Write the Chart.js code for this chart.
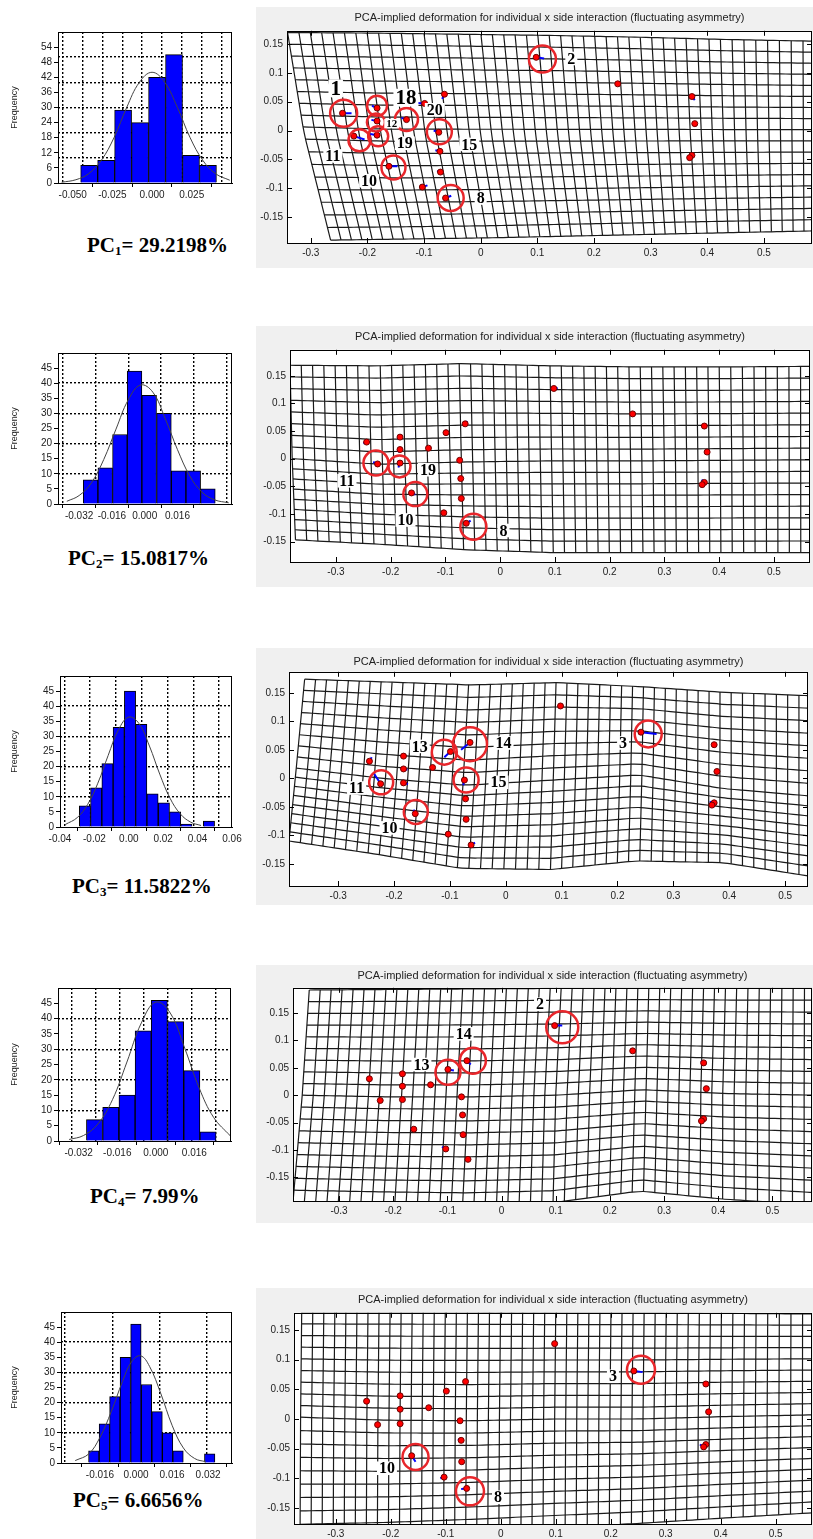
<!DOCTYPE html>
<html>
<head>
<meta charset="utf-8">
<script src="https://cdn.jsdelivr.net/npm/chart.js@4.4.1/dist/chart.umd.min.js"></script>
<style>
  body { margin: 0; width: 813px; height: 1539px; position: relative; overflow: hidden; background: #fff; }
  canvas { position: absolute; }
  .pc { position: absolute; font: bold 21px "Liberation Serif", "Times New Roman", serif; line-height: 24px; color: #000; white-space: nowrap; }
  .pc sub { font-size: 13px; line-height: 0; vertical-align: -3px; }
</style>
</head>
<body>

<div class="pc" style="left:87px;top:233px">PC<sub>1</sub>= 29.2198%</div>
<div class="pc" style="left:68px;top:546px">PC<sub>2</sub>= 15.0817%</div>
<div class="pc" style="left:72px;top:874px">PC<sub>3</sub>= 11.5822%</div>
<div class="pc" style="left:90px;top:1184px">PC<sub>4</sub>= 7.99%</div>
<div class="pc" style="left:73px;top:1488px">PC<sub>5</sub>= 6.6656%</div>

<script>
// ====================== PC histograms + deformation grids ======================

const fontSans = '"Liberation Sans", Arial, sans-serif';
const fontNarrow = '"Liberation Sans Narrow", "Liberation Sans", Arial, sans-serif';
const fontSerif = '"Liberation Serif", "Times New Roman", serif';
const warpTitle = 'PCA-implied deformation for individual x side interaction (fluctuating asymmetry)';

// ---------- histogram data (bin edges, counts, fitted normal curve) ----------
const h1Edges = [-0.0450, -0.0343, -0.0236, -0.0129, -0.0022, 0.0085, 0.0192, 0.0299, 0.0406];
const h1Counts = [7, 9, 29, 24, 42, 51, 11, 7];
const h1CurveX = [-0.057, -0.048, -0.040, -0.032, -0.024, -0.016, -0.008, 0, 0.008, 0.016, 0.024, 0.032, 0.040, 0.049];
const h1CurveY = [0.3, 1.3, 3.7, 9, 18, 30, 40, 44, 40, 30, 18, 9, 3.7, 1.1];
const h1XTicks = [-0.05, -0.025, 0, 0.025];
const h1XGrid = [-0.05, -0.0375, -0.025, -0.0125, 0, 0.0125, 0.025, 0.0375, 0.05];
const h1YTicks = [0, 6, 12, 18, 24, 30, 36, 42, 48, 54];
const h1YGrid = [10, 20, 30, 40, 50];

const h2Edges = [-0.0300, -0.0228, -0.0157, -0.0085, -0.0014, 0.0058, 0.0130, 0.0201, 0.0273, 0.0344];
const h2Counts = [8, 12, 23, 44, 36, 30, 11, 11, 5];
const h2CurveX = [-0.038, -0.032, -0.026, -0.020, -0.014, -0.008, -0.002, 0.004, 0.010, 0.016, 0.022, 0.028, 0.034, 0.041];
const h2CurveY = [0.9, 2.8, 7, 14.7, 24.8, 34.5, 39.4, 37, 28.3, 18, 9.3, 3.9, 1.4, 0.4];
const h2XTicks = [-0.032, -0.016, 0, 0.016];
const h2XGrid = [-0.032, -0.016, 0, 0.016, 0.032];
const h2YTicks = [0, 5, 10, 15, 20, 25, 30, 35, 40, 45];
const h2YGrid = [10, 20, 30, 40];

const h3Edges = [-0.0288, -0.0222, -0.0157, -0.0091, -0.0026, 0.0040, 0.0105, 0.0171, 0.0237, 0.0302, 0.0368, 0.0433, 0.0499];
const h3Counts = [7, 13, 21, 33, 45, 34, 11, 8, 5, 1, 0, 2];
const h3CurveX = [-0.037, -0.030, -0.024, -0.018, -0.012, -0.006, 0, 0.006, 0.012, 0.018, 0.024, 0.030, 0.036, 0.042];
const h3CurveY = [0.8, 3.1, 7.4, 14.5, 23.7, 32.2, 36.4, 34.2, 26.8, 17.5, 9.5, 4.3, 1.6, 0.5];
const h3XTicks = [-0.04, -0.02, 0, 0.02, 0.04, 0.06];
const h3XGrid = [-0.03, -0.015, 0, 0.015, 0.03, 0.045];
const h3YTicks = [0, 5, 10, 15, 20, 25, 30, 35, 40, 45];
const h3YGrid = [10, 20, 30, 40];

const h4Edges = [-0.0288, -0.0221, -0.0153, -0.0086, -0.0019, 0.0048, 0.0116, 0.0183, 0.0250];
const h4Counts = [7, 11, 15, 36, 46, 39, 23, 3];
const h4CurveX = [-0.036, -0.030, -0.024, -0.018, -0.012, -0.006, 0, 0.006, 0.012, 0.018, 0.024, 0.031];
const h4CurveY = [0.5, 1.8, 5.6, 13.5, 25.8, 38.6, 45.4, 41.8, 30.3, 17.3, 7.7, 1.6];
const h4XTicks = [-0.032, -0.016, 0, 0.016];
const h4XGrid = [-0.03, -0.02, -0.01, 0, 0.01, 0.02, 0.03];
const h4YTicks = [0, 5, 10, 15, 20, 25, 30, 35, 40, 45];
const h4YGrid = [10, 20, 30, 40];

const h5Edges = [-0.0211, -0.0164, -0.0117, -0.0071, -0.0024, 0.0023, 0.0070, 0.0117, 0.0163, 0.0210, 0.0257, 0.0304, 0.0350];
const h5Counts = [4, 13, 22, 35, 46, 26, 17, 10, 4, 0, 0, 3];
const h5CurveX = [-0.027, -0.021, -0.016, -0.011, -0.006, -0.002, 0.002, 0.006, 0.011, 0.016, 0.021, 0.026, 0.031];
const h5CurveY = [0.8, 3, 8.5, 17, 27, 33.5, 35.5, 32, 23, 12.5, 5, 1.5, 0.4];
const h5XTicks = [-0.016, 0, 0.016, 0.032];
const h5XGrid = [-0.021, 0, 0.021, 0.042];
const h5YTicks = [0, 5, 10, 15, 20, 25, 30, 35, 40, 45];
const h5YGrid = [10, 20, 30, 40];

// ---------- deformation plots ----------
const warpXTicks = [-0.3, -0.2, -0.1, 0, 0.1, 0.2, 0.3, 0.4, 0.5];
const warpYTicks = [-0.15, -0.1, -0.05, 0, 0.05, 0.1, 0.15];

// mean landmark configuration (same in all five plots)
const lmX = [-0.244, -0.183, -0.183, -0.183, -0.224, -0.131, -0.099, -0.064, -0.074, -0.072, -0.071, -0.062, -0.103, -0.162, 0.098, 0.242, 0.373, 0.378, 0.373, 0.369];
const lmY = [0.030, 0.039, 0.0165, -0.008, -0.0096, 0.019, 0.047, 0.063, -0.003, -0.036, -0.072, -0.117, -0.098, -0.062, 0.127, 0.081, 0.059, 0.012, -0.043, -0.047];

// PC1
const pc1GridTop = [[-0.341, 0.170], [-0.187, 0.169], [-0.033, 0.167], [0.121, 0.165], [0.275, 0.162], [0.430, 0.158], [0.590, 0.155]];
const pc1GridMid = [[-0.312, -0.004], [-0.163, -0.008], [-0.013, -0.008], [0.136, -0.008], [0.286, -0.008], [0.435, -0.008], [0.590, -0.008]];
const pc1GridBot = [[-0.265, -0.190], [-0.124, -0.188], [0.018, -0.186], [0.160, -0.183], [0.301, -0.180], [0.443, -0.177], [0.590, -0.174]];
const pc1VecFrom = [0, 1, 2, 3, 4, 5, 6, 7, 8, 9, 10, 11, 12, 13, 14, 16];
const pc1VecDx = [0.016, -0.009, -0.010, -0.012, 0.019, -0.009, -0.013, -0.004, -0.009, -0.008, -0.006, 0.010, 0.009, 0.015, 0.014, 0.005];
const pc1VecDy = [0, 0.004, 0.002, 0.002, -0.006, 0.003, 0.001, -0.008, 0.003, 0.002, 0.002, 0.004, 0.003, 0, -0.002, -0.006];
const pc1RingX = [-0.242, -0.183, -0.185, -0.181, -0.214, -0.131, -0.073, -0.154, -0.053, 0.109];
const pc1RingY = [0.030, 0.043, 0.014, -0.010, -0.017, 0.019, -0.002, -0.064, -0.117, 0.124];
const pc1NumText = ['1', '18', '20', '12', '19', '15', '11', '10', '8', '2'];
const pc1NumX = [-0.256, -0.132, -0.081, -0.157, -0.134, -0.020, -0.261, -0.197, 0.000, 0.160];
const pc1NumY = [0.073, 0.057, 0.036, 0.012, -0.022, -0.024, -0.044, -0.087, -0.117, 0.125];

// PC2
const pc2GridTop = [[-0.384, 0.169], [-0.226, 0.168], [-0.068, 0.172], [0.091, 0.168], [0.249, 0.166], [0.407, 0.166], [0.570, 0.167]];
const pc2GridMid = [[-0.380, 0.000], [-0.222, -0.010], [-0.064, -0.006], [0.094, -0.004], [0.252, -0.004], [0.409, -0.003], [0.570, -0.002]];
const pc2GridBot = [[-0.374, -0.147], [-0.217, -0.155], [-0.060, -0.165], [0.097, -0.170], [0.254, -0.170], [0.410, -0.170], [0.570, -0.170]];
const pc2VecFrom = [0, 1, 2, 3, 4, 6, 7, 11, 13, 14, 18];
const pc2VecDx = [-0.006, -0.005, -0.004, -0.003, -0.008, -0.001, 0.004, 0.008, 0.007, 0.007, -0.005];
const pc2VecDy = [-0.002, -0.003, -0.0045, -0.008, 0.0036, 0.005, 0.005, 0.005, -0.003, 0.001, 0.005];
const pc2RingX = [-0.227, -0.184, -0.155, -0.049];
const pc2RingY = [-0.008, -0.014, -0.064, -0.123];
const pc2NumText = ['11', '19', '10', '8'];
const pc2NumX = [-0.280, -0.132, -0.173, 0.006];
const pc2NumY = [-0.040, -0.020, -0.111, -0.130];

// PC3
const pc3GridTop = [[-0.360, 0.174], [-0.210, 0.169], [-0.060, 0.164], [0.090, 0.168], [0.240, 0.161], [0.390, 0.151], [0.545, 0.145]];
const pc3GridMid = [[-0.375, 0.018], [-0.222, 0.000], [-0.070, -0.012], [0.085, -0.003], [0.237, 0.006], [0.390, -0.018], [0.545, -0.031]];
const pc3GridBot = [[-0.388, -0.110], [-0.233, -0.133], [-0.080, -0.158], [0.080, -0.160], [0.233, -0.145], [0.390, -0.148], [0.545, -0.172]];
const pc3VecFrom = [4, 6, 7, 8, 13, 15, 0, 3, 2, 11, 19];
const pc3VecDx = [-0.012, -0.011, -0.016, -0.002, -0.003, 0.028, 0.004, 0.008, 0.007, 0.007, -0.003];
const pc3VecDy = [0.018, -0.010, -0.013, -0.009, 0.007, -0.003, 0.007, -0.002, -0.0015, 0.004, 0.007];
const pc3RingX = [-0.223, -0.110, -0.064, -0.071, -0.161, 0.255];
const pc3RingY = [-0.007, 0.046, 0.060, -0.003, -0.059, 0.078];
const pc3NumText = ['13', '14', '15', '11', '10', '3'];
const pc3NumX = [-0.154, -0.004, -0.013, -0.267, -0.208, 0.210];
const pc3NumY = [0.056, 0.062, -0.007, -0.017, -0.087, 0.062];

// PC4
const pc4GridTop = [[-0.355, 0.192], [-0.200, 0.193], [-0.045, 0.194], [0.110, 0.195], [0.265, 0.195], [0.420, 0.195], [0.580, 0.195]];
const pc4GridMid = [[-0.368, 0.000], [-0.212, -0.003], [-0.055, -0.003], [0.100, 0.000], [0.260, 0.010], [0.415, 0.003], [0.580, 0.000]];
const pc4GridBot = [[-0.385, -0.195], [-0.225, -0.198], [-0.065, -0.200], [0.095, -0.196], [0.255, -0.175], [0.415, -0.190], [0.580, -0.200]];
const pc4VecFrom = [14, 6, 7, 12, 16, 13];
const pc4VecDx = [0.014, 0.011, 0.007, -0.007, -0.005, -0.006];
const pc4VecDy = [0, -0.002, -0.007, 0.004, 0.004, 0.002];
const pc4RingX = [0.112, -0.053, -0.099];
const pc4RingY = [0.124, 0.063, 0.042];
const pc4NumText = ['2', '14', '13'];
const pc4NumX = [0.071, -0.070, -0.148];
const pc4NumY = [0.166, 0.112, 0.056];

// PC5
const pc5GridTop = [[-0.362, 0.180], [-0.208, 0.180], [-0.054, 0.180], [0.100, 0.179], [0.254, 0.179], [0.408, 0.178], [0.570, 0.177]];
const pc5GridMid = [[-0.364, 0.003], [-0.210, -0.002], [-0.056, -0.003], [0.098, 0.000], [0.252, 0.000], [0.406, 0.004], [0.570, 0.007]];
const pc5GridBot = [[-0.365, -0.200], [-0.211, -0.196], [-0.057, -0.190], [0.097, -0.183], [0.251, -0.176], [0.405, -0.167], [0.570, -0.158]];
const pc5VecFrom = [15, 13, 11, 12, 9, 19, 7, 16];
const pc5VecDx = [0.016, 0.007, -0.010, -0.007, -0.006, -0.007, 0, -0.001];
const pc5VecDy = [-0.002, -0.010, -0.001, -0.002, 0.002, 0.004, 0.004, 0.005];
const pc5RingX = [0.255, -0.155, -0.056];
const pc5RingY = [0.083, -0.064, -0.122];
const pc5NumText = ['3', '10', '8'];
const pc5NumX = [0.204, -0.207, -0.005];
const pc5NumY = [0.072, -0.083, -0.132];

// ---------- styles kept apart from the data ----------
const pc1RingR = [13.5, 10, 9, 10, 11, 11.5, 12.5, 12, 13, 13.5];
const pc1NumSize = [21, 21, 16, 11, 16, 16, 16, 16, 16, 16];
const pc2RingR = [12.5, 11, 12, 13];
const pc3RingR = [12, 12.5, 17, 12.5, 12, 13.5];
const pc4RingR = [16, 13, 12.5];
const pc5RingR = [14, 13, 14];

// ---------- plugins ----------
const framePlugin = {
  id: 'frame',
  beforeDraw(chart) {
    const a = chart.chartArea, c = chart.ctx;
    c.save();
    c.fillStyle = '#fff';
    c.fillRect(a.left, a.top, a.right - a.left, a.bottom - a.top);
    c.restore();
  },
  afterDatasetsDraw(chart, args, opts) {
    const a = chart.chartArea, c = chart.ctx;
    c.save();
    c.strokeStyle = '#000';
    c.lineWidth = 1;
    if (opts.inTicks) {
      const xs = chart.scales.x, ys = chart.scales.y;
      c.beginPath();
      xs.ticks.forEach(t => {
        const p = Math.round(xs.getPixelForValue(t.value)) + 0.5;
        c.moveTo(p, a.bottom); c.lineTo(p, a.bottom - 5);
        c.moveTo(p, a.top); c.lineTo(p, a.top + 5);
      });
      ys.ticks.forEach(t => {
        const p = Math.round(ys.getPixelForValue(t.value)) + 0.5;
        c.moveTo(a.left, p); c.lineTo(a.left + 5, p);
        c.moveTo(a.right, p); c.lineTo(a.right - 5, p);
      });
      c.stroke();
    }
    // numbered landmark labels
    if (opts.text) {
      const xs = chart.scales.x, ys = chart.scales.y;
      c.textAlign = 'center';
      c.textBaseline = 'middle';
      opts.text.forEach((s, i) => {
        c.font = 'bold ' + opts.size[i] + 'px ' + fontSerif;
        const px = xs.getPixelForValue(opts.x[i]), py = ys.getPixelForValue(opts.y[i]);
        const w = c.measureText(s).width + 4, h = opts.size[i] * 0.85;
        c.fillStyle = '#fff';
        c.fillRect(px - w / 2, py - h / 2, w, h);
        c.fillStyle = '#000';
        c.fillText(s, px, py + 1);
      });
    }
    c.strokeRect(Math.round(a.left) + 0.5, Math.round(a.top) + 0.5, Math.round(a.right - a.left) - 1, Math.round(a.bottom - a.top));
    c.restore();
  }
};

// ---------- builders ----------
function makeCanvas(left, top, w, h, bg) {
  const cv = document.createElement('canvas');
  cv.width = w; cv.height = h;
  cv.style.left = left + 'px'; cv.style.top = top + 'px';
  cv.style.width = w + 'px'; cv.style.height = h + 'px';
  if (bg) cv.style.background = bg;
  document.body.appendChild(cv);
  return cv;
}

function histChart(h) {
  const cv = makeCanvas(0, h.top, 250, h.height);
  const centers = h.edges.slice(0, -1).map((e, i) => (e + h.edges[i + 1]) / 2);
  const tickFont = { family: fontNarrow, size: 10 };
  new Chart(cv, {
    type: 'bar',
    data: {
      datasets: [
        { type: 'line', order: 0, data: h.curveX.map((x, i) => ({ x, y: h.curveY[i] })),
          borderColor: '#444', borderWidth: 1, pointRadius: 0, tension: 0.4 },
        { type: 'bar', order: 1, data: centers.map((x, i) => ({ x, y: h.counts[i] })),
          backgroundColor: '#0000ff', borderColor: '#000', borderWidth: 1,
          barPercentage: 1, categoryPercentage: 1, grouped: false }
      ]
    },
    options: {
      responsive: false, animation: false, devicePixelRatio: 1,
      layout: { autoPadding: false, padding: { top: h.boxTop - h.top, right: 250 - h.right, left: 0, bottom: 0 } },
      plugins: { legend: { display: false }, tooltip: { enabled: false }, frame: {} },
      scales: {
        x: { type: 'linear', position: 'bottom', min: h.xMin, max: h.xMax, offset: false,
          afterBuildTicks: s => { s.ticks = h.xTicks.map(v => ({ value: v })); },
          afterFit: s => { s.height = h.top + h.height - h.boxBottom; s.paddingLeft = 0; s.paddingRight = 0; },
          ticks: { callback: v => v.toFixed(h.dec), font: tickFont, color: '#222', padding: 2, maxRotation: 0, autoSkip: false },
          grid: { drawOnChartArea: false, drawTicks: true, tickLength: 4, tickColor: '#000' },
          border: { display: true, color: '#000' } },
        xg: { type: 'linear', position: 'bottom', min: h.xMin, max: h.xMax, offset: false,
          afterBuildTicks: s => { s.ticks = h.xGrid.map(v => ({ value: v })); },
          afterFit: s => { s.height = 0; },
          ticks: { display: false },
          grid: { color: '#000', lineWidth: 1.4, drawTicks: false },
          border: { display: false, dash: [2, 2] } },
        y: { type: 'linear', position: 'left', min: 0, max: h.yMax,
          afterBuildTicks: s => { s.ticks = h.yTicks.map(v => ({ value: v })); },
          afterFit: s => { s.width = h.left; s.paddingTop = 0; s.paddingBottom = 0; },
          title: { display: true, text: 'Frequency', font: { family: fontSans, size: 9 }, color: '#222', padding: { top: 9 } },
          ticks: { font: tickFont, color: '#222', padding: 2 },
          grid: { drawOnChartArea: false, drawTicks: true, tickLength: 4, tickColor: '#000' },
          border: { display: true, color: '#000' } },
        yg: { type: 'linear', position: 'left', min: 0, max: h.yMax,
          afterBuildTicks: s => { s.ticks = h.yGrid.map(v => ({ value: v })); },
          afterFit: s => { s.width = 0; },
          ticks: { display: false },
          grid: { color: '#000', lineWidth: 1.4, drawTicks: false },
          border: { display: false, dash: [2, 2] } }
      }
    },
    plugins: [framePlugin]
  });
}

function warpPoint(ctrl, u, v) {
  const n = ctrl[0].length - 1, m = ctrl.length - 1;
  const su = u * n, i = Math.min(Math.floor(su), n - 1), f = su - i;
  const sv = v * m, j = Math.min(Math.floor(sv), m - 1), g = sv - j;
  const lerp = (p, q, t) => [p[0] + (q[0] - p[0]) * t, p[1] + (q[1] - p[1]) * t];
  const p = lerp(lerp(ctrl[j][i], ctrl[j][i + 1], f), lerp(ctrl[j + 1][i], ctrl[j + 1][i + 1], f), g);
  return { x: p[0], y: p[1] };
}

function gridDatasets(ctrl, nCols, nRows) {
  const out = [];
  const line = pts => ({ type: 'scatter', showLine: true, data: pts, borderColor: '#1a1a1a', borderWidth: 1.2,
    pointRadius: 0, tension: 0.3 });
  for (let r = 0; r <= nRows; r++) {
    const pts = [];
    for (let c = 0; c <= nCols; c++) pts.push(warpPoint(ctrl, c / nCols, r / nRows));
    out.push(line(pts));
  }
  for (let c = 0; c <= nCols; c++) {
    const pts = [];
    for (let r = 0; r <= nRows; r++) pts.push(warpPoint(ctrl, c / nCols, r / nRows));
    out.push(line(pts));
  }
  return out;
}

function warpChart(w) {
  const cv = makeCanvas(256, w.top, 557, w.height, '#f0f0f0');
  const datasets = [];
  // red rings
  datasets.push({ type: 'scatter', data: w.ringX.map((x, i) => ({ x, y: w.ringY[i] })),
    pointRadius: w.ringR, pointStyle: 'circle', backgroundColor: 'rgba(0,0,0,0)',
    borderColor: '#e8262b', borderWidth: 2.5 });
  // landmarks
  datasets.push({ type: 'scatter', data: lmX.map((x, i) => ({ x, y: lmY[i] })),
    pointRadius: 3, backgroundColor: '#ff0000', borderColor: '#700000', borderWidth: 1 });
  // displacement vectors
  w.vecFrom.forEach((k, i) => {
    datasets.push({ type: 'scatter', showLine: true, pointRadius: 0, borderColor: '#0000ff', borderWidth: 2,
      data: [{ x: lmX[k], y: lmY[k] }, { x: lmX[k] + w.vecDx[i], y: lmY[k] + w.vecDy[i] }] });
  });
  gridDatasets([w.gridTop, w.gridMid, w.gridBot], 46, w.rows).forEach(d => datasets.push(d));

  const tickFont = { family: fontSans, size: 10 };
  const fmt = v => { const r = Math.round(v * 100) / 100; return r === 0 ? '0' : String(r); };
  new Chart(cv, {
    type: 'scatter',
    data: { datasets },
    options: {
      responsive: false, animation: false, devicePixelRatio: 1,
      layout: { autoPadding: false, padding: { top: 0, right: 813 - w.right, left: 0, bottom: 0 } },
      plugins: {
        legend: { display: false }, tooltip: { enabled: false },
        title: { display: true, fullSize: false, text: warpTitle, color: '#222',
          font: { family: fontNarrow, size: 11, weight: 'normal' }, padding: { top: w.tPad, bottom: w.bPad } },
        frame: { inTicks: true, text: w.numText, x: w.numX, y: w.numY, size: w.numSize }
      },
      scales: {
        x: { type: 'linear', min: w.xMin, max: w.xMax,
          afterBuildTicks: s => { s.ticks = warpXTicks.map(v => ({ value: v })); },
          afterFit: s => { s.height = w.top + w.height - w.boxBottom; s.paddingLeft = 0; s.paddingRight = 0; },
          ticks: { callback: fmt, font: tickFont, color: '#222', padding: 4, maxRotation: 0, autoSkip: false },
          grid: { display: true, drawOnChartArea: false, drawTicks: false }, border: { display: false } },
        y: { type: 'linear', min: w.yMin, max: w.yMax,
          afterBuildTicks: s => { s.ticks = warpYTicks.map(v => ({ value: v })); },
          afterFit: s => { s.width = w.left - 256; s.paddingTop = 0; s.paddingBottom = 0; },
          ticks: { callback: fmt, font: tickFont, color: '#222', padding: 4 },
          grid: { display: true, drawOnChartArea: false, drawTicks: false }, border: { display: false } }
      }
    },
    plugins: [framePlugin]
  });
}

// ---------- draw ----------
histChart({ top: 22, height: 185, boxTop: 32, boxBottom: 183, left: 58, right: 232, xMin: -0.0593, xMax: 0.0504, yMax: 60, dec: 3,
  edges: h1Edges, counts: h1Counts, curveX: h1CurveX, curveY: h1CurveY, xTicks: h1XTicks, xGrid: h1XGrid, yTicks: h1YTicks, yGrid: h1YGrid });
histChart({ top: 343, height: 185, boxTop: 353, boxBottom: 504, left: 58, right: 232, xMin: -0.0423, xMax: 0.0426, yMax: 50, dec: 3,
  edges: h2Edges, counts: h2Counts, curveX: h2CurveX, curveY: h2CurveY, xTicks: h2XTicks, xGrid: h2XGrid, yTicks: h2YTicks, yGrid: h2YGrid });
histChart({ top: 666, height: 185, boxTop: 676, boxBottom: 827, left: 60, right: 232, xMin: -0.04, xMax: 0.06, yMax: 50, dec: 2,
  edges: h3Edges, counts: h3Counts, curveX: h3CurveX, curveY: h3CurveY, xTicks: h3XTicks, xGrid: h3XGrid, yTicks: h3YTicks, yGrid: h3YGrid });
histChart({ top: 978, height: 187, boxTop: 988, boxBottom: 1141, left: 58, right: 231, xMin: -0.0406, xMax: 0.0312, yMax: 50, dec: 3,
  edges: h4Edges, counts: h4Counts, curveX: h4CurveX, curveY: h4CurveY, xTicks: h4XTicks, xGrid: h4XGrid, yTicks: h4YTicks, yGrid: h4YGrid });
histChart({ top: 1302, height: 185, boxTop: 1312, boxBottom: 1463, left: 61, right: 232, xMin: -0.0333, xMax: 0.0426, yMax: 50, dec: 3,
  edges: h5Edges, counts: h5Counts, curveX: h5CurveX, curveY: h5CurveY, xTicks: h5XTicks, xGrid: h5XGrid, yTicks: h5YTicks, yGrid: h5YGrid });

warpChart({ top: 7, height: 261, left: 287, right: 812, boxBottom: 243, tPad: 4.8, bPad: 5.8, rows: 17,
  xMin: -0.342, xMax: 0.585, yMin: -0.195, yMax: 0.173,
  gridTop: pc1GridTop, gridMid: pc1GridMid, gridBot: pc1GridBot, vecFrom: pc1VecFrom, vecDx: pc1VecDx, vecDy: pc1VecDy,
  ringX: pc1RingX, ringY: pc1RingY, ringR: pc1RingR, numText: pc1NumText, numX: pc1NumX, numY: pc1NumY, numSize: pc1NumSize });
warpChart({ top: 326, height: 261, left: 290, right: 810, boxBottom: 562, tPad: 4.1, bPad: 6.5, rows: 16,
  xMin: -0.384, xMax: 0.566, yMin: -0.187, yMax: 0.197,
  gridTop: pc2GridTop, gridMid: pc2GridMid, gridBot: pc2GridBot, vecFrom: pc2VecFrom, vecDx: pc2VecDx, vecDy: pc2VecDy,
  ringX: pc2RingX, ringY: pc2RingY, ringR: pc2RingR, numText: pc2NumText, numX: pc2NumX, numY: pc2NumY, numSize: pc2NumText.map(() => 16) });
warpChart({ top: 648, height: 257, left: 289, right: 808, boxBottom: 886, tPad: 7.5, bPad: 3.1, rows: 16,
  xMin: -0.388, xMax: 0.541, yMin: -0.189, yMax: 0.187,
  gridTop: pc3GridTop, gridMid: pc3GridMid, gridBot: pc3GridBot, vecFrom: pc3VecFrom, vecDx: pc3VecDx, vecDy: pc3VecDy,
  ringX: pc3RingX, ringY: pc3RingY, ringR: pc3RingR, numText: pc3NumText, numX: pc3NumX, numY: pc3NumY, numSize: pc3NumText.map(() => 16) });
warpChart({ top: 965, height: 258, left: 293, right: 812, boxBottom: 1201, tPad: 4.5, bPad: 5.1, rows: 18,
  xMin: -0.385, xMax: 0.573, yMin: -0.193, yMax: 0.196,
  gridTop: pc4GridTop, gridMid: pc4GridMid, gridBot: pc4GridBot, vecFrom: pc4VecFrom, vecDx: pc4VecDx, vecDy: pc4VecDy,
  ringX: pc4RingX, ringY: pc4RingY, ringR: pc4RingR, numText: pc4NumText, numX: pc4NumX, numY: pc4NumY, numSize: pc4NumText.map(() => 16) });
warpChart({ top: 1288, height: 251, left: 294, right: 812, boxBottom: 1524, tPad: 5.8, bPad: 5.8, rows: 18,
  xMin: -0.376, xMax: 0.566, yMin: -0.177, yMax: 0.179,
  gridTop: pc5GridTop, gridMid: pc5GridMid, gridBot: pc5GridBot, vecFrom: pc5VecFrom, vecDx: pc5VecDx, vecDy: pc5VecDy,
  ringX: pc5RingX, ringY: pc5RingY, ringR: pc5RingR, numText: pc5NumText, numX: pc5NumX, numY: pc5NumY, numSize: pc5NumText.map(() => 16) });
</script>
</body>
</html>
